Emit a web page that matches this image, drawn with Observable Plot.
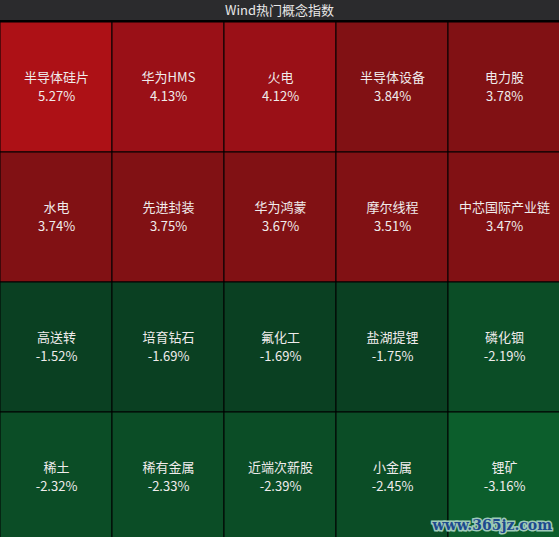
<!DOCTYPE html>
<html>
<head>
<meta charset="utf-8">
<script src="https://cdn.jsdelivr.net/npm/d3@7"></script>
<script src="https://cdn.jsdelivr.net/npm/@observablehq/plot@0.6"></script>
<style>
  html, body { margin: 0; padding: 0; background: #000; overflow: hidden; }
  #wrap { position: relative; width: 559px; }
  #title {
    box-sizing: border-box; height: 21px; border-bottom: 1px solid #000;
    background: #2b2b2d; color: #e8e8e8; text-align: center;
    font: 13px/20px "Noto Sans CJK SC", "Noto Sans", sans-serif;
  }
  #chart svg { display: block; }
  #wm {
    position: absolute; right: 7px; bottom: 9px;
    font: bold 14px "DejaVu Serif", serif; color: #1d4a8e;
    -webkit-text-stroke: 3px #9fcab8; paint-order: stroke fill;
  }
</style>
</head>
<body>
<div id="wrap">
  <div id="title">Wind热门概念指数</div>
  <div id="chart"></div>
  <div id="wm">www.365jz.com</div>
</div>
<script>
const names = [
  "半导体硅片", "华为HMS", "火电", "半导体设备", "电力股",
  "水电", "先进封装", "华为鸿蒙", "摩尔线程", "中芯国际产业链",
  "高送转", "培育钻石", "氟化工", "盐湖提锂", "磷化铟",
  "稀土", "稀有金属", "近端次新股", "小金属", "锂矿"
];
const values = [
  5.27, 4.13, 4.12, 3.84, 3.78,
  3.74, 3.75, 3.67, 3.51, 3.47,
  -1.52, -1.69, -1.69, -1.75, -2.19,
  -2.32, -2.33, -2.39, -2.45, -3.16
];
const nCols = 5;
const colorThresholds = [-3, -2, 0, 4, 5];
const colorRange = ["#0c5e2c", "#0b4d26", "#0a4022", "#811114", "#9a1017", "#ad1116"];

const data = names.map((name, i) => ({
  name, value: values[i], col: i % nCols, row: Math.floor(i / nCols)
}));

const textStyle = { fill: "#f0ecec", fontSize: 13 };

const chart = Plot.plot({
  width: 559,
  height: 521,
  margin: 0,
  style: { fontFamily: "'Noto Sans CJK SC', 'Noto Sans', sans-serif", background: "#000" },
  x: { type: "band", domain: d3.range(nCols), padding: 0, axis: null, range: [-1, 560] },
  y: { type: "band", domain: d3.range(4), padding: 0, axis: null },
  color: { type: "threshold", domain: colorThresholds, range: colorRange },
  marks: [
    Plot.cell(data, { x: "col", y: "row", fill: "value", stroke: "#000", strokeWidth: 1 }),
    Plot.text(data, { x: "col", y: "row", text: "name", dy: -9.5, ...textStyle }),
    Plot.text(data, { x: "col", y: "row", text: d => d.value.toFixed(2) + "%", dy: 9.5, ...textStyle })
  ]
});
document.getElementById("chart").appendChild(chart);
</script>
</body>
</html>
